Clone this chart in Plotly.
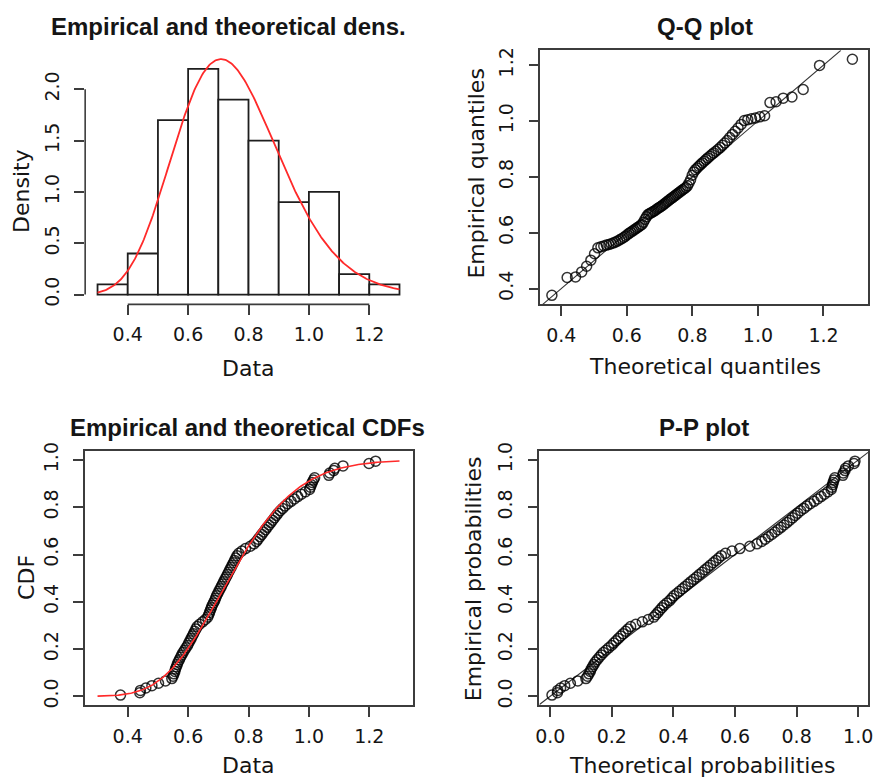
import math
import numpy as np
import plotly.graph_objects as go

# ---------------- data ----------------
data_values = [
    0.376, 0.440, 0.442, 0.460, 0.480,
    0.502, 0.525, 0.546, 0.550, 0.553, 0.556, 0.558, 0.561, 0.564, 0.567,
    0.571, 0.575, 0.579, 0.583, 0.588, 0.593, 0.598,
    0.602, 0.606, 0.610, 0.614, 0.618, 0.622, 0.626, 0.630, 0.638, 0.648,
    0.657, 0.665, 0.668, 0.671, 0.674, 0.677, 0.680, 0.684, 0.688, 0.691,
    0.694, 0.698,
    0.702, 0.706, 0.710, 0.714, 0.718, 0.722, 0.726, 0.730, 0.734, 0.738,
    0.742, 0.746, 0.750, 0.754, 0.758, 0.762, 0.768, 0.778, 0.790,
    0.806, 0.818, 0.826, 0.832, 0.838, 0.844, 0.850, 0.856, 0.862, 0.868,
    0.874, 0.880, 0.886, 0.892, 0.898,
    0.905, 0.913, 0.921, 0.930, 0.941, 0.952, 0.963, 0.975, 0.988,
    1.002, 1.005, 1.008, 1.011, 1.015, 1.019, 1.066, 1.069, 1.082, 1.086,
    1.113, 1.199,
    1.221,
]
hist_breaks = [0.3, 0.4, 0.5, 0.6, 0.7, 0.8, 0.9, 1.0, 1.1, 1.2, 1.3]

# fitted gamma distribution
gamma_shape = 17.8
gamma_rate = 23.7

data_ticks = [0.4, 0.6, 0.8, 1.0, 1.2]
density_ticks = [0.0, 0.5, 1.0, 1.5, 2.0]
quantile_ticks = [0.4, 0.6, 0.8, 1.0, 1.2]
prob_ticks = [0.0, 0.2, 0.4, 0.6, 0.8, 1.0]

# ---------------- helpers ----------------
def gamma_pdf(x):
    x = np.asarray(x, dtype=float)
    return np.exp(gamma_shape * np.log(gamma_rate) + (gamma_shape - 1) * np.log(x)
                  - gamma_rate * x - math.lgamma(gamma_shape))

grid = np.linspace(1e-6, 3.0, 60001)
pdf_grid = gamma_pdf(grid)
cdf_grid = np.concatenate([[0.0], np.cumsum((pdf_grid[1:] + pdf_grid[:-1]) / 2 * np.diff(grid))])

def gamma_cdf(x):
    return np.interp(x, grid, cdf_grid)

def gamma_ppf(p):
    return np.interp(p, cdf_grid, grid)

s = np.sort(np.array(data_values))
n = len(s)
obsp = (np.arange(1, n + 1) - 0.5) / n
theoq = gamma_ppf(obsp)
theop = gamma_cdf(s)

counts, _ = np.histogram(s, bins=hist_breaks)
widths = np.diff(hist_breaks)
dens = counts / (n * widths)
mids = (np.array(hist_breaks[:-1]) + np.array(hist_breaks[1:])) / 2

xfine = np.linspace(hist_breaks[0], hist_breaks[-1], 301)

# ---------------- styling ----------------
W, H = 880, 782
TXT = "#151515"
LINEC = "#3c3c3c"
tick_font = dict(family="DejaVu Sans", size=19, color=TXT)
lab_font = dict(family="DejaVu Sans", size=22, color=TXT)
title_font = dict(family="Liberation Sans", size=24, color=TXT, weight="bold")

def dom_x(a, b):
    return [a / W, b / W]

def dom_y(top, bottom):
    return [1 - bottom / H, 1 - top / H]

marker_style = dict(symbol="circle-open", size=10, color="rgba(0,0,0,0.8)",
                    line=dict(width=1.5, color="rgba(0,0,0,0.8)"))

fig = go.Figure()

# 1. histogram + density
fig.add_trace(go.Bar(x=mids, y=dens, width=widths, xaxis="x", yaxis="y",
                     marker=dict(color="white", line=dict(color="#1e1e1e", width=1.8)),
                     hoverinfo="skip"))
fig.add_trace(go.Scatter(x=xfine, y=gamma_pdf(xfine), mode="lines", xaxis="x", yaxis="y",
                         line=dict(color="#ff2a2a", width=1.8)))

# 2. QQ plot
qq_xr = [0.3366, 1.336]
qq_yr = [0.3436, 1.253]
lo = max(qq_xr[0], qq_yr[0]); hi = min(qq_xr[1], qq_yr[1])
fig.add_trace(go.Scatter(x=[lo, hi], y=[lo, hi], mode="lines", xaxis="x2", yaxis="y2",
                         line=dict(color="#333333", width=1.1)))
fig.add_trace(go.Scatter(x=theoq, y=s, mode="markers", xaxis="x2", yaxis="y2",
                         marker=marker_style))

# 3. CDF plot
fig.add_trace(go.Scatter(x=s, y=obsp, mode="markers", xaxis="x3", yaxis="y3",
                         marker=marker_style))
fig.add_trace(go.Scatter(x=xfine, y=gamma_cdf(xfine), mode="lines", xaxis="x3", yaxis="y3",
                         line=dict(color="#ff2a2a", width=1.6)))

# 4. PP plot
pp_xr = [-0.035, 1.032]
pp_yr = [-0.0375, 1.0375]
lo2 = max(pp_xr[0], pp_yr[0]); hi2 = min(pp_xr[1], pp_yr[1])
fig.add_trace(go.Scatter(x=[lo2, hi2], y=[lo2, hi2], mode="lines", xaxis="x4", yaxis="y4",
                         line=dict(color="#333333", width=1.1)))
fig.add_trace(go.Scatter(x=theop, y=obsp, mode="markers", xaxis="x4", yaxis="y4",
                         marker=marker_style))

def ax(domain, rng, ticks, anchor, boxed, xdir=True):
    d = dict(domain=domain, range=rng, tickvals=ticks,
             ticktext=[f"{t:.1f}" for t in ticks],
             ticks="outside", ticklen=10, tickwidth=1.5, tickcolor=LINEC,
             tickfont=tick_font, showgrid=False, zeroline=False, anchor=anchor,
             fixedrange=True)
    if boxed:
        d.update(showline=True, mirror=True, linecolor=LINEC, linewidth=1.6)
    else:
        d.update(showline=False)
    if xdir:
        d.update(ticklabelstandoff=3)
    else:
        d.update(tickangle=-90, ticklabelstandoff=8)
    return d

fig.update_layout(
    width=W, height=H, margin=dict(l=0, r=0, t=0, b=0),
    paper_bgcolor="white", plot_bgcolor="white", showlegend=False,
    xaxis=ax(dom_x(82, 413), [0.259, 1.344], data_ticks, "y", False),
    yaxis=ax(dom_y(42, 300), [-0.096, 2.380], density_ticks, "x", False, xdir=False),
    xaxis2=ax(dom_x(542, 873), qq_xr, data_ticks, "y2", True),
    yaxis2=ax(dom_y(42, 300), qq_yr, quantile_ticks, "x2", True, xdir=False),
    xaxis3=ax(dom_x(82, 413), [0.259, 1.344], data_ticks, "y3", True),
    yaxis3=ax(dom_y(449, 707), [-0.0375, 1.0375], prob_ticks, "x3", True, xdir=False),
    xaxis4=ax(dom_x(541, 873), pp_xr, prob_ticks, "y4", True),
    yaxis4=ax(dom_y(449, 707), pp_yr, prob_ticks, "x4", True, xdir=False),
)

# R-style axis lines for the histogram (span first to last tick only)
fig.add_shape(type="line", xref="x", yref="y domain", x0=data_ticks[0], x1=data_ticks[-1],
              y0=0, y1=0, line=dict(color=LINEC, width=1.6))
fig.add_shape(type="line", xref="x domain", yref="y", x0=0, x1=0,
              y0=density_ticks[0], y1=density_ticks[-1], line=dict(color=LINEC, width=1.6))

def ann(text, x, y, font, angle=0):
    fig.add_annotation(text=text, x=x / W, y=1 - y / H, xref="paper", yref="paper",
                       showarrow=False, xanchor="center", yanchor="middle",
                       font=font, textangle=angle)

# titles
ann("Empirical and theoretical dens.", 227, 18, title_font)
ann("Q-Q plot", 708, 18, title_font)
ann("Empirical and theoretical CDFs", 246, 425, title_font)
ann("P-P plot", 707, 425, title_font)
# axis titles
ann("Data", 247, 365, lab_font)
ann("Density", 17, 185, lab_font, -90)
ann("Theoretical quantiles", 708, 363, lab_font)
ann("Empirical quantiles", 477, 167, lab_font, -90)
ann("Data", 247, 768, lab_font)
ann("CDF", 22, 577, lab_font, -90)
ann("Theoretical probabilities", 705, 768, lab_font)
ann("Empirical probabilities", 474, 579, lab_font, -90)

fig.write_html("out.html")
